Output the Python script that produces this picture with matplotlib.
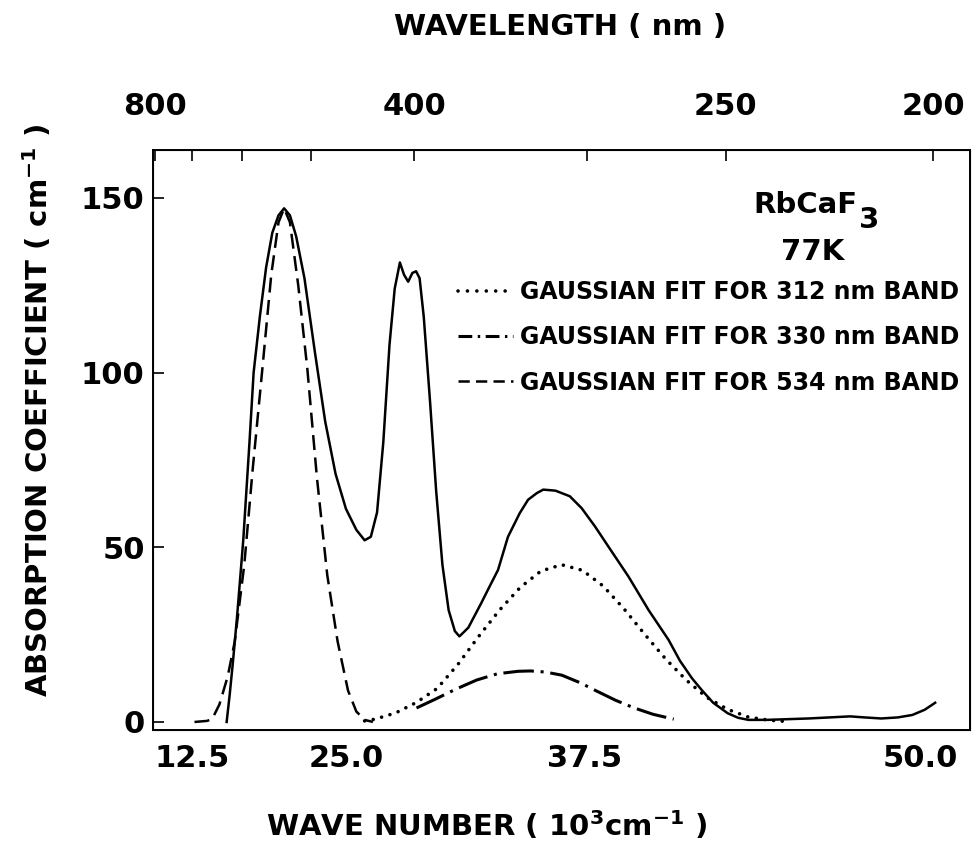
import matplotlib
matplotlib.use("Agg")
import matplotlib.pyplot as plt
from matplotlib.lines import Line2D

plt.rcParams['font.family'] = ['DejaVu Sans']
plt.rcParams['font.weight'] = 'bold'
plt.rcParams['mathtext.default'] = 'bf'

# measured absorption spectrum (wave number in 10^3 cm^-1, absorption coefficient in cm^-1)
meas_k = [15.95, 16.1, 16.25, 16.45, 16.75, 17.05, 17.25, 17.55, 17.85, 18.15, 18.45, 18.72,
          19.0, 19.3, 19.7, 20.2, 20.7, 21.2, 21.7, 22.2, 22.6, 22.9, 23.2, 23.5, 23.8, 24.05,
          24.3, 24.5, 24.7, 24.9, 25.08, 25.25, 25.45, 25.75, 26.05, 26.35, 26.65, 26.95, 27.17,
          27.6, 28.22, 28.6, 29.03, 29.51, 30.08, 30.48, 30.9, 31.21, 31.8, 32.49, 33.06, 33.7,
          34.35, 35.32, 36.29, 37.25, 37.8, 38.38, 38.84, 39.4, 40.1, 40.6, 41.1, 42.0, 43.0,
          44.0, 45.0, 46.0, 46.7, 47.5, 48.3, 49.0, 49.6, 50.1]
meas_a = [0, 8, 17, 30, 52, 80, 100, 116, 130, 140, 145, 147,
          145, 139, 127, 106, 86, 71, 61, 55, 52, 53, 60, 80, 108, 124,
          131.5, 128, 126, 128.5, 129, 127, 116, 92, 66, 45, 32, 26, 24.5,
          27, 34, 38.5, 43.5, 53, 59.8, 63.6, 65.5, 66.5, 66.2, 64.6, 61.2, 56,
          50.2, 41.6, 32, 23.5, 17.5, 12.5, 9.2, 5.5, 2.5, 1.2, 0.6, 0.6, 0.8,
          1.0, 1.3, 1.6, 1.3, 1.0, 1.3, 2.0, 3.5, 5.5]

# Gaussian fit, 312 nm band (dotted)
fit312_k = [22.6, 23.1, 24.1, 25.1, 26.1, 27.1, 28.1, 29.1, 30.1, 31.1, 32.1, 33.1, 34.1,
            35.1, 36.1, 37.1, 38.1, 39.1, 40.1, 41.1, 42.1, 42.8]
fit312_a = [0.3, 0.8, 2.6, 5.6, 9.6, 16.5, 24.5, 32, 38.5, 43.2, 45, 43.4, 38.9,
            32.4, 25.1, 18.1, 12, 7, 3.6, 1.4, 0.5, 0.2]

# Gaussian fit, 330 nm band (dash-dot)
fit330_k = [25.1, 26.0, 27.0, 28.0, 29.0, 30.0, 30.6, 31.3, 32.1, 33.0, 33.8, 34.7, 35.6, 36.5, 37.5]
fit330_a = [4, 6.5, 9.4, 12, 13.8, 14.5, 14.6, 14.3, 13.4, 11.2, 8.8, 6.2, 4, 2.2, 0.8]

# Gaussian fit, 534 nm band (dashed)
fit534_k = [14.4, 15.0, 15.25, 15.6, 16.0, 16.34, 16.8, 17.2, 17.67, 18.1, 18.45, 18.72,
            19.0, 19.4, 19.84, 20.3, 20.8, 21.3, 21.8, 22.2, 22.6, 23.0]
fit534_a = [0, 0.3, 0.8, 5, 13, 23, 45, 72, 101, 128, 143, 147,
            143, 125, 101, 70, 42, 23, 9, 3, 0.6, 0]

# bottom axis labels, placed where the figure prints them
bottom_label_pos = [14.3, 21.7, 33.2, 49.4]
bottom_labels = ['12.5', '25.0', '37.5', '50.0']
y_ticks = [0, 50, 100, 150]
top_nm = [800, 700, 600, 500, 400, 300, 250, 200]
top_labels = ['800', '', '', '', '400', '', '250', '200']

W, H = 974, 861
fig = plt.figure(figsize=(W / 100, H / 100), dpi=100)
L, R, T, B = 153, 970, 150, 730
ax = fig.add_axes([L / W, 1 - B / H, (R - L) / W, (B - T) / H])

ax.plot(meas_k, meas_a, color='black', lw=1.8, solid_joinstyle='round')
ax.plot(fit312_k, fit312_a, color='black', lw=2.6, linestyle=(0, (0.01, 2.4)),
        dash_capstyle='round')
ax.plot(fit330_k, fit330_a, color='black', lw=2.2, linestyle=(0, (10, 2.2, 1, 2.2)))
ax.plot(fit534_k, fit534_a, color='black', lw=1.8, linestyle=(0, (6, 3)))

ax.set_xlim(12.40, 51.78)
ax.set_ylim(-2.3, 163.7)

ax.set_xticks(bottom_label_pos)
ax.set_xticklabels(bottom_labels)
ax.set_yticks(y_ticks)
ax.tick_params(axis='both', direction='in', length=8, width=1.2, labelsize=22, color='black')
ax.tick_params(axis='x', length=0, pad=10)
ax.tick_params(axis='y', pad=6)
for s in ax.spines.values():
    s.set_linewidth(1.4)

top = ax.twiny()
top.set_xlim(ax.get_xlim())
top.set_xticks([1e4 / nm for nm in top_nm])
top.set_xticklabels(top_labels)
top.tick_params(axis='x', direction='in', length=8, width=1.2, labelsize=22, pad=21)

fig.text(560 / W, 1 - 27 / H, 'WAVELENGTH ( nm )', fontsize=21, ha='center', va='center')
fig.text(487 / W, 1 - 826 / H, 'WAVE NUMBER ( 10$^3$cm$^{-1}$ )', fontsize=21,
         ha='center', va='center')
fig.text(38 / W, 1 - 410 / H, 'ABSORPTION COEFFICIENT ( cm$^{-1}$ )', fontsize=21,
         ha='center', va='center', rotation=90)

fig.text(858 / W, 1 - 205 / H, 'RbCaF', fontsize=21, ha='right', va='center')
fig.text(859 / W, 1 - 220 / H, '3', fontsize=21, ha='left', va='center')
fig.text(813 / W, 1 - 252 / H, '77K', fontsize=21, ha='center', va='center')

handles = [Line2D([], [], color='black', lw=2.6, linestyle=(0, (0.01, 2.6)), dash_capstyle='round'),
           Line2D([], [], color='black', lw=2.2, linestyle=(0, (4.5, 1.8, 0.8, 1.8))),
           Line2D([], [], color='black', lw=1.8, linestyle=(0, (4.5, 2.5)))]
labels = ['GAUSSIAN FIT FOR 312 nm BAND', 'GAUSSIAN FIT FOR 330 nm BAND',
          'GAUSSIAN FIT FOR 534 nm BAND']
ax.legend(handles, labels, loc='upper right', bbox_to_anchor=(1.004, 0.80), frameon=False,
          handlelength=2.3, handletextpad=0.3, labelspacing=0.9, borderaxespad=0.2,
          prop={'weight': 'bold', 'size': 17})

fig.savefig('out.png', dpi=100)
